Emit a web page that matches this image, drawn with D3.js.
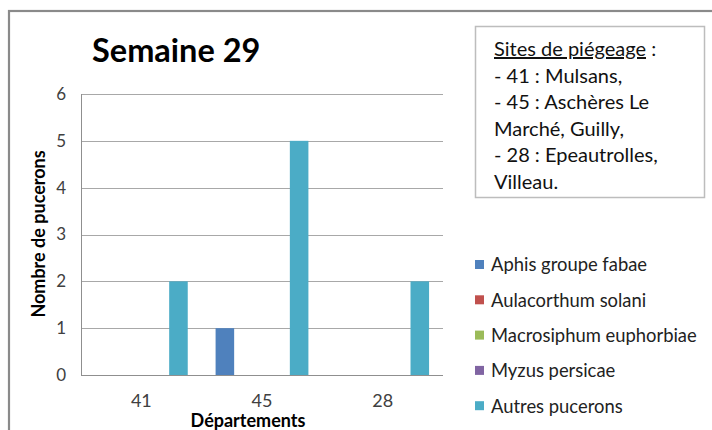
<!DOCTYPE html>
<html>
<head>
<meta charset="utf-8">
<script src="https://cdn.jsdelivr.net/npm/d3@7"></script>
<style>
  html, body { margin: 0; padding: 0; background: #fff; }
  svg { display: block; font-family: Lato, 'Liberation Sans', sans-serif; }
</style>
</head>
<body>
<div id="chart"></div>
<script>
const categories = ['41', '45', '28'];
const seriesNames = [
  'Aphis groupe fabae',
  'Aulacorthum solani',
  'Macrosiphum euphorbiae',
  'Myzus persicae',
  'Autres pucerons',
];
const aphisValues = [0, 1, 0];
const aulacorthumValues = [0, 0, 0];
const macrosiphumValues = [0, 0, 0];
const myzusValues = [0, 0, 0];
const autresValues = [2, 5, 2];
const yTicks = [0, 1, 2, 3, 4, 5, 6];
const siteLines = [
  '- 41 : Mulsans,',
  '- 45 : Aschères Le',
  'Marché, Guilly,',
  '- 28 : Epeautrolles,',
  'Villeau.',
];

const seriesValues = [aphisValues, aulacorthumValues, macrosiphumValues, myzusValues, autresValues];
const colors = ['#4F81BD', '#C0504D', '#9BBB59', '#8064A2', '#4BACC6'];

const size = { width: 712, height: 430 };
const plot = { left: 81, right: 443, top: 94, bottom: 375 };

const svg = d3
  .select('#chart')
  .append('svg')
  .attr('width', size.width)
  .attr('height', size.height);

// outer frame (runs off the right and bottom edges)
svg
  .append('rect')
  .attr('x', 9)
  .attr('y', 11)
  .attr('width', 800)
  .attr('height', 500)
  .attr('fill', '#fff')
  .attr('stroke', '#8a8a8a')
  .attr('stroke-width', 2.2);

const x0 = d3.scaleBand().domain(categories).range([plot.left, plot.right]);
const x1 = d3
  .scaleBand()
  .domain(d3.range(seriesNames.length))
  .range([0, x0.bandwidth()])
  .paddingInner(0)
  .paddingOuter(0.75);
const y = d3.scaleLinear().domain([0, 6]).range([plot.bottom, plot.top]);

// gridlines
svg
  .append('g')
  .selectAll('line')
  .data(yTicks)
  .join('line')
  .attr('x1', plot.left)
  .attr('x2', plot.right)
  .attr('y1', (d) => Math.round(y(d)) + 0.5)
  .attr('y2', (d) => Math.round(y(d)) + 0.5)
  .attr('stroke', (d) => (d === 0 ? '#8f8f8f' : '#a8a8a8'))
  .attr('stroke-width', 1);

svg
  .append('line')
  .attr('x1', plot.left + 0.5)
  .attr('x2', plot.left + 0.5)
  .attr('y1', plot.top)
  .attr('y2', plot.bottom)
  .attr('stroke', '#8f8f8f');

// y tick labels
svg
  .append('g')
  .selectAll('text')
  .data(yTicks)
  .join('text')
  .attr('x', plot.left - 15)
  .attr('y', (d) => y(d))
  .attr('dy', '0.35em')
  .attr('text-anchor', 'end')
  .attr('font-size', 17)
  .attr('fill', '#404040')
  .text((d) => d);

// bars
const groups = svg
  .append('g')
  .selectAll('g')
  .data(categories)
  .join('g')
  .attr('transform', (d) => `translate(${x0(d)},0)`);

groups
  .selectAll('rect')
  .data((c, ci) => seriesValues.map((vals, si) => ({ si, v: vals[ci] })))
  .join('rect')
  .attr('x', (d) => x1(d.si))
  .attr('width', x1.bandwidth())
  .attr('y', (d) => y(d.v))
  .attr('height', (d) => y(0) - y(d.v))
  .attr('fill', (d) => colors[d.si]);

// x tick labels
svg
  .append('g')
  .selectAll('text')
  .data(categories)
  .join('text')
  .attr('x', (d) => x0(d) + x0.bandwidth() / 2)
  .attr('y', 407)
  .attr('text-anchor', 'middle')
  .attr('font-size', 18)
  .attr('fill', '#404040')
  .text((d) => d);

svg
  .append('text')
  .attr('x', 248)
  .attr('y', 427)
  .attr('text-anchor', 'middle')
  .attr('font-size', 18)
  .attr('font-weight', 'bold')
  .text('Départements');

svg
  .append('text')
  .attr('transform', 'translate(45,234) rotate(-90)')
  .attr('text-anchor', 'middle')
  .attr('font-size', 18)
  .attr('font-weight', 'bold')
  .text('Nombre de pucerons');

// title
svg
  .append('text')
  .attr('x', 92)
  .attr('y', 62)
  .attr('font-size', 32.5)
  .attr('font-weight', 'bold')
  .text('Semaine 29');

// sites box
svg
  .append('rect')
  .attr('x', 475.5)
  .attr('y', 26.5)
  .attr('width', 229)
  .attr('height', 171)
  .attr('fill', '#fff')
  .attr('stroke', '#bdbdbd')
  .attr('stroke-width', 1.5);

const boxText = svg.append('g').attr('font-size', 20).attr('fill', '#111');

const head = boxText.append('text').attr('x', 494).attr('y', 56);
head.append('tspan').attr('text-decoration', 'underline').text('Sites de piégeage');
head.append('tspan').text(' :');

boxText
  .selectAll('text.line')
  .data(siteLines)
  .join('text')
  .attr('class', 'line')
  .attr('x', 494)
  .attr('y', (d, i) => 56 + (i + 1) * 26.5)
  .text((d) => d);

// legend
const legend = svg
  .append('g')
  .selectAll('g')
  .data(seriesNames)
  .join('g')
  .attr('transform', (d, i) => `translate(475,${265 + i * 35.3})`);

legend
  .append('rect')
  .attr('x', 0)
  .attr('y', -5)
  .attr('width', 9)
  .attr('height', 9)
  .attr('fill', (d, i) => colors[i]);

legend
  .append('text')
  .attr('x', 16)
  .attr('y', 0)
  .attr('dy', '0.35em')
  .attr('font-size', 18.4)
  .attr('fill', '#222')
  .text((d) => d);
</script>
</body>
</html>
